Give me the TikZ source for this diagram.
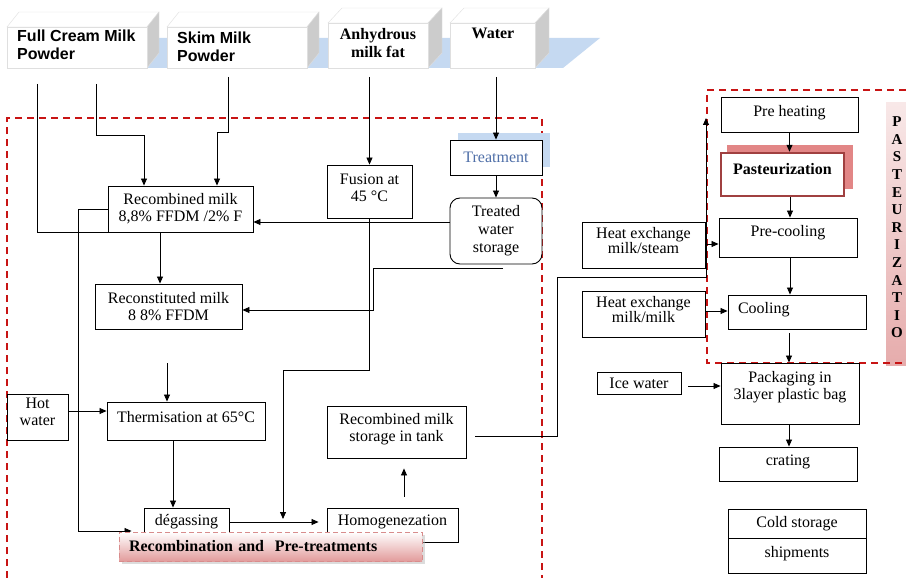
\documentclass[tikz,border=0pt]{standalone}
\usepackage{fontspec}
\setmainfont{Liberation Serif}
\newfontfamily\arialfont{Liberation Sans}
\usetikzlibrary{arrows.meta,calc,shadows}
\definecolor{shadowblue}{RGB}{197,217,241}
\definecolor{treatblue}{RGB}{79,111,168}
\definecolor{framered}{RGB}{200,20,20}
\definecolor{pastborder}{RGB}{160,64,64}
\definecolor{pastshadow}{RGB}{226,134,134}
\definecolor{lblpink}{RGB}{226,156,156}
\definecolor{lblborder}{RGB}{216,140,140}
\definecolor{striptop}{RGB}{248,232,232}
\definecolor{stripbot}{RGB}{230,172,172}
\newcommand\cubebox[6]{%
  \filldraw[white, draw=gray!25] (#1,#2) -- ++(#5,-#6) -- (#3+#5,#2-#6) -- (#3,#2) -- cycle;
  \filldraw[gray!40, draw=gray!25] (#3,#2) -- (#3+#5,#2-#6) -- (#3+#5,#4-#6) -- (#3,#4) -- cycle;
  \filldraw[white, draw=gray!25] (#1,#2) rectangle (#3,#4);
}
\begin{document}
\begin{tikzpicture}[x=1pt,y=-1pt,
  box/.style={draw, line width=0.9pt, inner sep=0pt, align=center, fill=white,
    font=\fontsize{16}{17}\selectfont},
  sz/.style 2 args={minimum width=#1pt, minimum height=#2pt},
  arr/.style={-{Triangle[length=7pt,width=6pt]}, line width=0.8pt},
  ln/.style={line width=0.8pt},
  reddash/.style={draw=framered, line width=1.8pt, dash pattern=on 7pt off 5pt},
  topsans/.style={font=\arialfont\bfseries\fontsize{16}{18}\selectfont, inner sep=0pt, align=left},
  topserif/.style={font=\bfseries\fontsize{16}{18}\selectfont, inner sep=0pt, align=center}]
\useasboundingbox (0,0) rectangle (906,578);

% ---- top source boxes ----
\fill[shadowblue] (20,38) -- (600,38) -- (563,68) -- (20,68) -- cycle;
\cubebox{7}{27}{147}{68}{12}{15}
\cubebox{167}{27}{307}{68}{12}{15}
\cubebox{328}{23}{428}{68}{14}{15}
\cubebox{450}{23}{535}{68}{14}{15}
\node[topsans, anchor=north west] (fcp) at (17,30) {Full Cream Milk\\Powder};
\node[topsans, anchor=north west] (smp) at (177,32) {Skim Milk\\Powder};
\node[topserif, anchor=north] (amf) at (378,28) {Anhydrous\\milk fat};
\node[topserif, anchor=north] (wat) at (493,28) {Water};

% ---- side label strip (behind frame) ----
\node[inner sep=0pt, sz={20}{262}, top color=striptop, bottom color=stripbot] (pstrip) at (896,234) {};
\node[inner sep=0pt, align=center, font=\bfseries\fontsize{15}{17.6}\selectfont] (pletters) at (897,227.5)
  {P\\A\\S\\T\\E\\U\\R\\I\\Z\\A\\T\\I\\O};

% ---- frames ----
\draw[reddash] (7,578) -- (7,118) -- (542,118) -- (542,578);
\draw[reddash] (906,90) -- (707,90) -- (707,363) -- (906,363);

% ---- left section boxes ----
\fill[shadowblue] (458,133) rectangle (550,167);
\node[box, sz={145}{46}] (rec) at (180.5,209) {Recombined milk\\8,8\% FFDM /2\% F};
\node[box, sz={147}{45}] (recon) at (168.5,306.5) {Reconstituted milk\\8 8\% FFDM};
\node[box, sz={85}{53}, text depth=7pt] (fus) at (369.5,191.5) {Fusion at\\45 °C};
\node[box, sz={92}{35}, text=treatblue] (treat) at (496,157.5) {Treatment};
\node[box, sz={92}{66}, rounded corners=10pt, font=\fontsize{16}{18}\selectfont] (tws) at (496,231) {Treated\\water\\storage};
\node[box, sz={61}{46}, text depth=11pt] (hot) at (37.5,417) {Hot\\water};
\node[box, sz={158}{38}, text depth=8pt] (therm) at (186,421) {Thermisation at 65°C};
\node[box, sz={85}{36}, text depth=11.5pt] (degas) at (186.5,526) {dégassing};
\node[box, sz={131}{34}, text depth=9.5pt] (homog) at (392.5,525) {Homogenezation};
\node[box, sz={139}{52}, text depth=9pt] (tank) at (396.5,432) {Recombined milk\\storage in tank};

% ---- right section boxes ----
\node[box, sz={123}{46}, font=\fontsize{16}{15}\selectfont, text depth=10pt] (hems) at (643.5,245) {Heat exchange\\milk/steam};
\node[box, sz={123}{46}, font=\fontsize{16}{15}\selectfont, text depth=10pt] (hemm) at (643.5,314) {Heat exchange\\milk/milk};
\node[box, sz={84}{22}] (ice) at (639,383) {Ice water};
\node[box, sz={137}{35}, text depth=8pt] (preh) at (789.5,114.5) {Pre heating};
\fill[pastshadow] (727,145) rectangle (853,189);
\node[box, sz={123}{43}, draw=pastborder, line width=2.5pt, text depth=12pt, font=\bfseries\fontsize{16}{17}\selectfont] (past) at (782.5,174.5) {Pasteurization};
\node[box, sz={138}{39}, text depth=12.5pt] (prec) at (788,237.5) {Pre-cooling};
\node[box, sz={138}{34}, align=left, text width=118pt, inner xsep=10pt, text depth=9pt] (cool) at (797,312) {Cooling};
\node[box, sz={138}{61}, text depth=15.5pt] (pack) at (790,393.5) {Packaging in\\3layer plastic bag};
\node[box, sz={138}{34}, text depth=7.5pt] (crat) at (788,464) {crating};
\node[box, sz={138}{29}] (cold) at (797,523.5) {Cold storage};
\node[box, sz={138}{35}, text depth=8pt] (ship) at (797,555.5) {shipments};

% ---- coordinates for free ends ----
\coordinate (fc1) at (37,84);
\coordinate (fc2) at (96,84);
\coordinate (sk1) at (228,77);
\coordinate (am1) at (369.5,77);
\coordinate (wa1) at (496,77);
\coordinate (tw2) at (503,268);
\coordinate (t0) at (167,363);
\coordinate (mj) at (283,522);
\coordinate (ph0) at (706,118);

% ---- connectors ----
\draw[ln] (fc1) |- (rec.south west);
\draw[arr] (fc2) -- (96,135) -| ([xshift=-36.5pt]rec.north);
\draw[arr] (sk1) -- (228,132) -| ([xshift=36.5pt]rec.north);
\draw[arr] (am1) -- (fus.north);
\draw[arr] (wa1) -- (treat.north);
\draw[arr] (treat.south) -- (tws.north);
\draw[arr] ([yshift=9pt]tws.west) -- ([yshift=9pt]tws.west -| rec.east);
\draw[arr] ([xshift=-20.5pt]rec.south) -- ([xshift=-20.5pt]rec.south |- recon.north);
\draw[arr, shorten >=12pt] (rec.west) -- (78,209) |- ([yshift=-5pt]degas.west);
\draw[arr, shorten >=3pt] (fus.south) |- (283,370) -- (mj);
\draw[arr] (tw2) -- (373,268) |- ([yshift=-3.5pt]recon.east);
\draw[arr] ([yshift=6pt]hot.east) -- ([yshift=6pt]hot.east -| therm.west);
\draw[arr] (t0) -- (t0 |- therm.north);
\draw[arr] ([xshift=-13pt]therm.south) -- ([xshift=-13pt]therm.south |- degas.north);
\draw[arr, shorten >=8pt] ([yshift=4pt]degas.east) -- ([yshift=4pt]degas.east -| homog.west);
\draw[arr, shorten <=11pt, shorten >=10pt] ([xshift=11.5pt]homog.north) -- ([xshift=11.5pt]homog.north |- tank.south);
\draw[arr, shorten <=9pt] ([yshift=-4pt]tank.east) -- (557,436) |- (706,277) -- (ph0);
\draw[arr] ([yshift=1pt]hems.east) -- ([yshift=1pt]hems.east -| prec.west);
\draw[arr] ([yshift=3pt]hemm.east) -- ([yshift=3pt]hemm.east -| cool.west);
\draw[arr, shorten <=7pt] ([yshift=-3pt]ice.east) -- ([yshift=-3pt]ice.east -| pack.west);
\draw[arr] (preh.south) -- (preh.south |- past.north);
\draw[arr] ([xshift=7.5pt]past.south) -- ([xshift=7.5pt]past.south |- prec.north);
\draw[arr] ([xshift=2pt]prec.south) -- ([xshift=2pt]prec.south |- cool.north);
\draw[arr, shorten <=4pt] ([xshift=-8pt]cool.south) -- ([xshift=-8pt]cool.south |- pack.north);
\draw[arr] ([xshift=-1pt]pack.south) -- ([xshift=-1pt]pack.south |- crat.north);

% ---- bottom label ----
\node[draw=lblborder, line width=0.9pt, dash pattern=on 5pt off 3pt, top color=white, bottom color=lblpink,
  drop shadow={shadow xshift=3pt, shadow yshift=-3pt, fill=gray!55},
  sz={303}{29}, inner ysep=0pt, inner xsep=10pt, text width=283pt, align=left,
  font=\bfseries\fontsize{16}{17}\selectfont] (rlabel) at (270.5,546.5) {Recombination and\ \ Pre-treatments};
\end{tikzpicture}
\end{document}
